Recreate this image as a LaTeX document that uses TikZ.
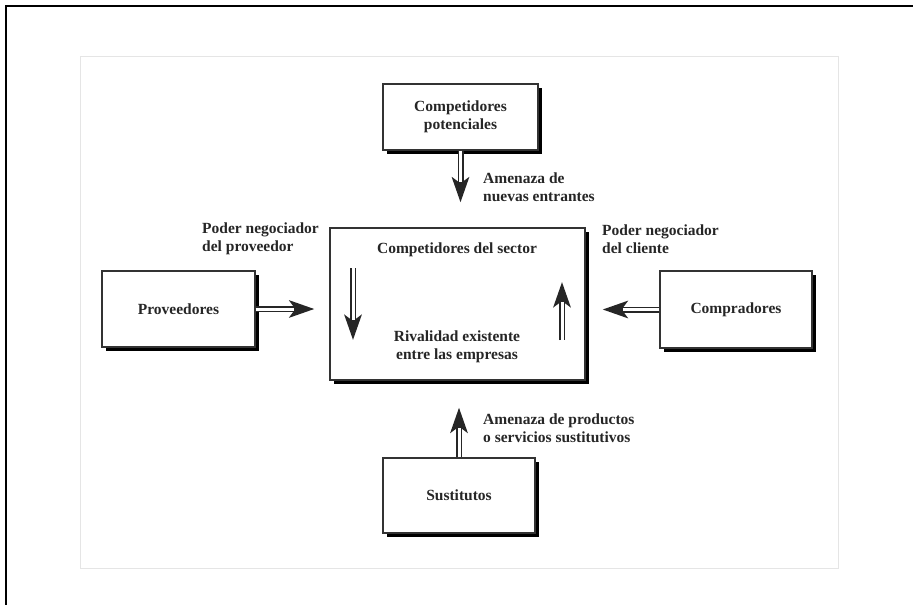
\documentclass[tikz,border=0pt]{standalone}
\usepackage{fontspec}
\setmainfont{Liberation Serif}
\usetikzlibrary{shapes,arrows.meta,positioning,calc,shadows}

\begin{document}
\begin{tikzpicture}[x=1pt,y=-1pt]
  \tikzstyle{caja}=[rectangle, draw=black!80, line width=1.2pt, fill=white, font=\fontsize{15.5}{18}\selectfont\bfseries, text=black!85, align=center, general shadow={fill=black, shadow xshift=4pt, shadow yshift=-4pt}]
  \tikzstyle{texto}=[font=\fontsize{15.5}{18}\selectfont\bfseries, text=black!85, align=left, anchor=west, inner sep=0pt]
  \tikzset{fuerza/.style={draw=black!85, line width=6pt, -{Stealth[length=25pt, width=17pt, inset=6pt]}, shorten >=#1,
      postaction={draw=white, line width=3pt, -, shorten >=#1+20pt}},
    fuerza/.default=0pt}
  \useasboundingbox (0,0) rectangle (913,605);

  % marco de la figura
  \draw[black!10, line width=1pt] (80,56) rectangle (838,568);
  \draw[line width=2pt] (6,605) -- (6,6) -- (913,6);

  % las cinco fuerzas
  \node[caja, minimum width=155pt, minimum height=66pt] (pot) at (460.5,117) {Competidores\\potenciales};
  \node[caja, minimum width=255pt, minimum height=152pt] (sector) at (457.5,304) {};
  \node[caja, minimum width=153pt, minimum height=76pt] (prov) at (178.5,309) {Proveedores};
  \node[caja, minimum width=152pt, minimum height=77pt] (comp) at (736,309.5) {Compradores};
  \node[caja, minimum width=152pt, minimum height=75pt] (sust) at (459,495.5) {Sustitutos};

  % textos dentro del sector
  \node[texto, anchor=center, align=center] (titsector) at (457,250) {Competidores del sector};
  \node[texto, anchor=center, align=center] (rival) at (457,347) {Rivalidad existente\\entre las empresas};
  \coordinate (bajaA) at (353,268);
  \coordinate (bajaB) at (353,340);
  \coordinate (subeA) at (562,340);
  \coordinate (subeB) at (562,282);

  % etiquetas de las flechas
  \node[texto] (entrantes) at (483,187) {Amenaza de\\nuevas entrantes};
  \node[texto] (negprov) at (202,239) {Poder negociador\\del proveedor};
  \node[texto] (negcli) at (602,239) {Poder negociador\\del cliente};
  \node[texto] (sustitutivos) at (483,428) {Amenaza de productos\\o servicios sustitutivos};

  % flechas
  \draw[fuerza=25pt] (pot.south) -- (pot.south |- sector.north);
  \draw[fuerza=15pt] (prov.east) -- (prov.east -| sector.west);
  \draw[fuerza=17pt] (comp.west) -- (comp.west -| sector.east);
  \draw[fuerza=27pt] (sust.north) -- (sust.north |- sector.south);
  \draw[fuerza] (bajaA) -- (bajaB);
  \draw[fuerza] (subeA) -- (subeB);
\end{tikzpicture}
\end{document}
